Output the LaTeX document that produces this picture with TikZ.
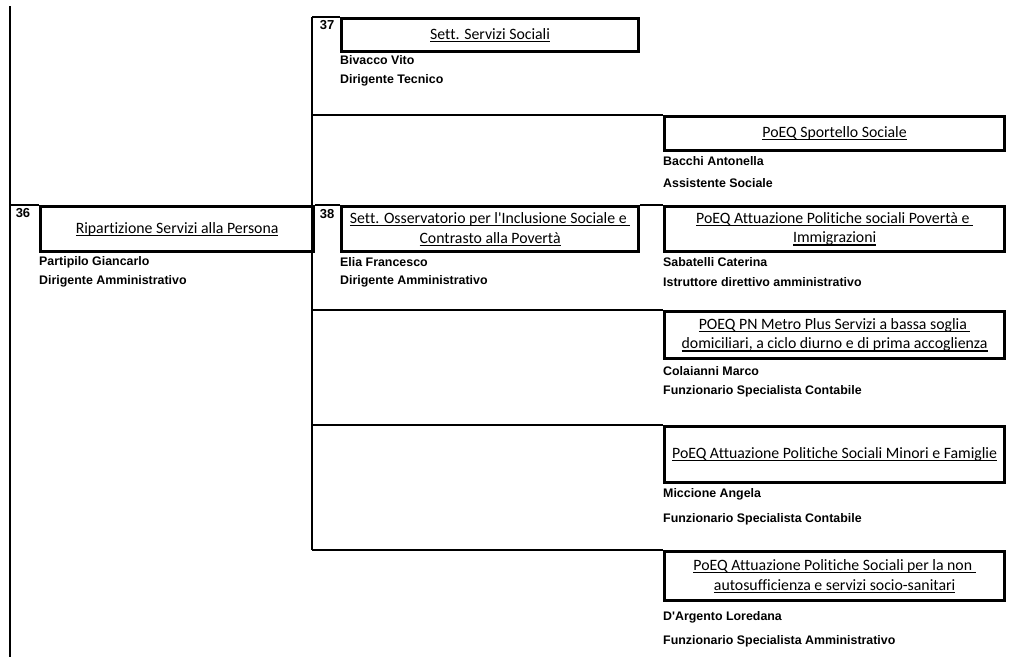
\documentclass[tikz,border=0pt]{standalone}
\usepackage{fontspec}
\setmainfont{Carlito}[Ligatures={TeX,NoCommon}]
\newfontfamily\arialfont{Liberation Sans}
\usetikzlibrary{positioning}

% underlined title line
\newcommand\ulin[1]{\setbox0\hbox{#1}\rlap{\raisebox{-2.6pt}{\rule{\wd0}{1.1pt}}}\box0}

\tikzset{
    unit/.style={draw, line width=3.2pt, anchor=north west, inner sep=0pt, align=center,
        font=\fontsize{15.8}{19.5}\selectfont},
    person/.style={anchor=west, inner sep=0pt, font=\arialfont\bfseries\fontsize{12.4}{14}\selectfont},
    code/.style={inner sep=0pt, font=\arialfont\bfseries\fontsize{13}{15}\selectfont},
    spine/.style={line width=1.8pt}
}

\begin{document}
\begin{tikzpicture}[x=1pt, y=-1pt]
    \useasboundingbox (0,0) rectangle (1014,657);

    % units
    \node[unit, minimum width=273, minimum height=45] (r36) at (39,205) {\ulin{Ripartizione Servizi alla Persona}};
    \node[unit, minimum width=297, minimum height=33] (s37) at (340,17) {\ulin{Sett. Servizi Sociali}};
    \node[unit, minimum width=297, minimum height=45] (s38) at (340,205) {\ulin{Sett. Osservatorio per l\textquotesingle Inclusione Sociale e\ }\\\ulin{Contrasto alla Povertà}};
    \node[unit, minimum width=340, minimum height=34] (p1) at (663,115) {\ulin{PoEQ Sportello Sociale}};
    \node[unit, minimum width=340, minimum height=45] (p2) at (663,205) {\ulin{PoEQ Attuazione Politiche sociali Povertà e\ }\\\ulin{Immigrazioni}};
    \node[unit, minimum width=340, minimum height=47] (p3) at (663,310) {\ulin{POEQ PN Metro Plus Servizi a bassa soglia\ }\\\ulin{domiciliari, a ciclo diurno e di prima accoglienza}};
    \node[unit, minimum width=340, minimum height=56] (p4) at (663,425) {\ulin{PoEQ Attuazione Politiche Sociali Minori e Famiglie}};
    \node[unit, minimum width=340, minimum height=49] (p5) at (663,550) {\ulin{PoEQ Attuazione Politiche Sociali per la non\ }\\\ulin{autosufficienza e servizi socio-sanitari}};

    % codes
    \node[code] (c36) at (23,213) {36};
    \node[code] (c37) at (327,25) {37};
    \node[code] (c38) at (327,214) {38};

    % people
    \node[person] (n36a) at (39,262) {Partipilo Giancarlo};
    \node[person] (n36b) at (39,281) {Dirigente Amministrativo};
    \node[person] (n37a) at (340,60) {Bivacco Vito};
    \node[person] (n37b) at (340,80) {Dirigente Tecnico};
    \node[person] (n38a) at (340,262) {Elia Francesco};
    \node[person] (n38b) at (340,281) {Dirigente Amministrativo};
    \node[person] (n1a) at (663,161) {Bacchi Antonella};
    \node[person] (n1b) at (663,183) {Assistente Sociale};
    \node[person] (n2a) at (663,262) {Sabatelli Caterina};
    \node[person] (n2b) at (663,282) {Istruttore direttivo amministrativo};
    \node[person] (n3a) at (663,371) {Colaianni Marco};
    \node[person] (n3b) at (663,391) {Funzionario Specialista Contabile};
    \node[person] (n4a) at (663,494) {Miccione Angela};
    \node[person] (n4b) at (663,519) {Funzionario Specialista Contabile};
    \node[person] (n5a) at (663,617) {D\textquotesingle Argento Loredana};
    \node[person] (n5b) at (663,641) {Funzionario Specialista Amministrativo};

    % spines
    \coordinate (topA) at (10,6);
    \coordinate (botA) at (10,657);
    \coordinate (jA) at (10,205);
    \coordinate (topB) at (312,17);
    \coordinate (botB) at (312,550);
    \coordinate (k1) at (312,115);
    \coordinate (k3) at (312,310);
    \coordinate (k4) at (312,425);
    \draw[spine] (topA) -- (botA);
    \draw[spine] (topB) -- (botB);
    \draw[spine] (jA) -- (r36.north west);
    \draw[spine] (r36.north east) -- (s38.north west);
    \draw[spine] (s38.north east) -- (p2.north west);
    \draw[spine] (topB) -- (s37.north west);
    \draw[spine] (k1) -- (p1.north west);
    \draw[spine] (k3) -- (p3.north west);
    \draw[spine] (k4) -- (p4.north west);
    \draw[spine] (botB) -- (p5.north west);
\end{tikzpicture}
\end{document}
